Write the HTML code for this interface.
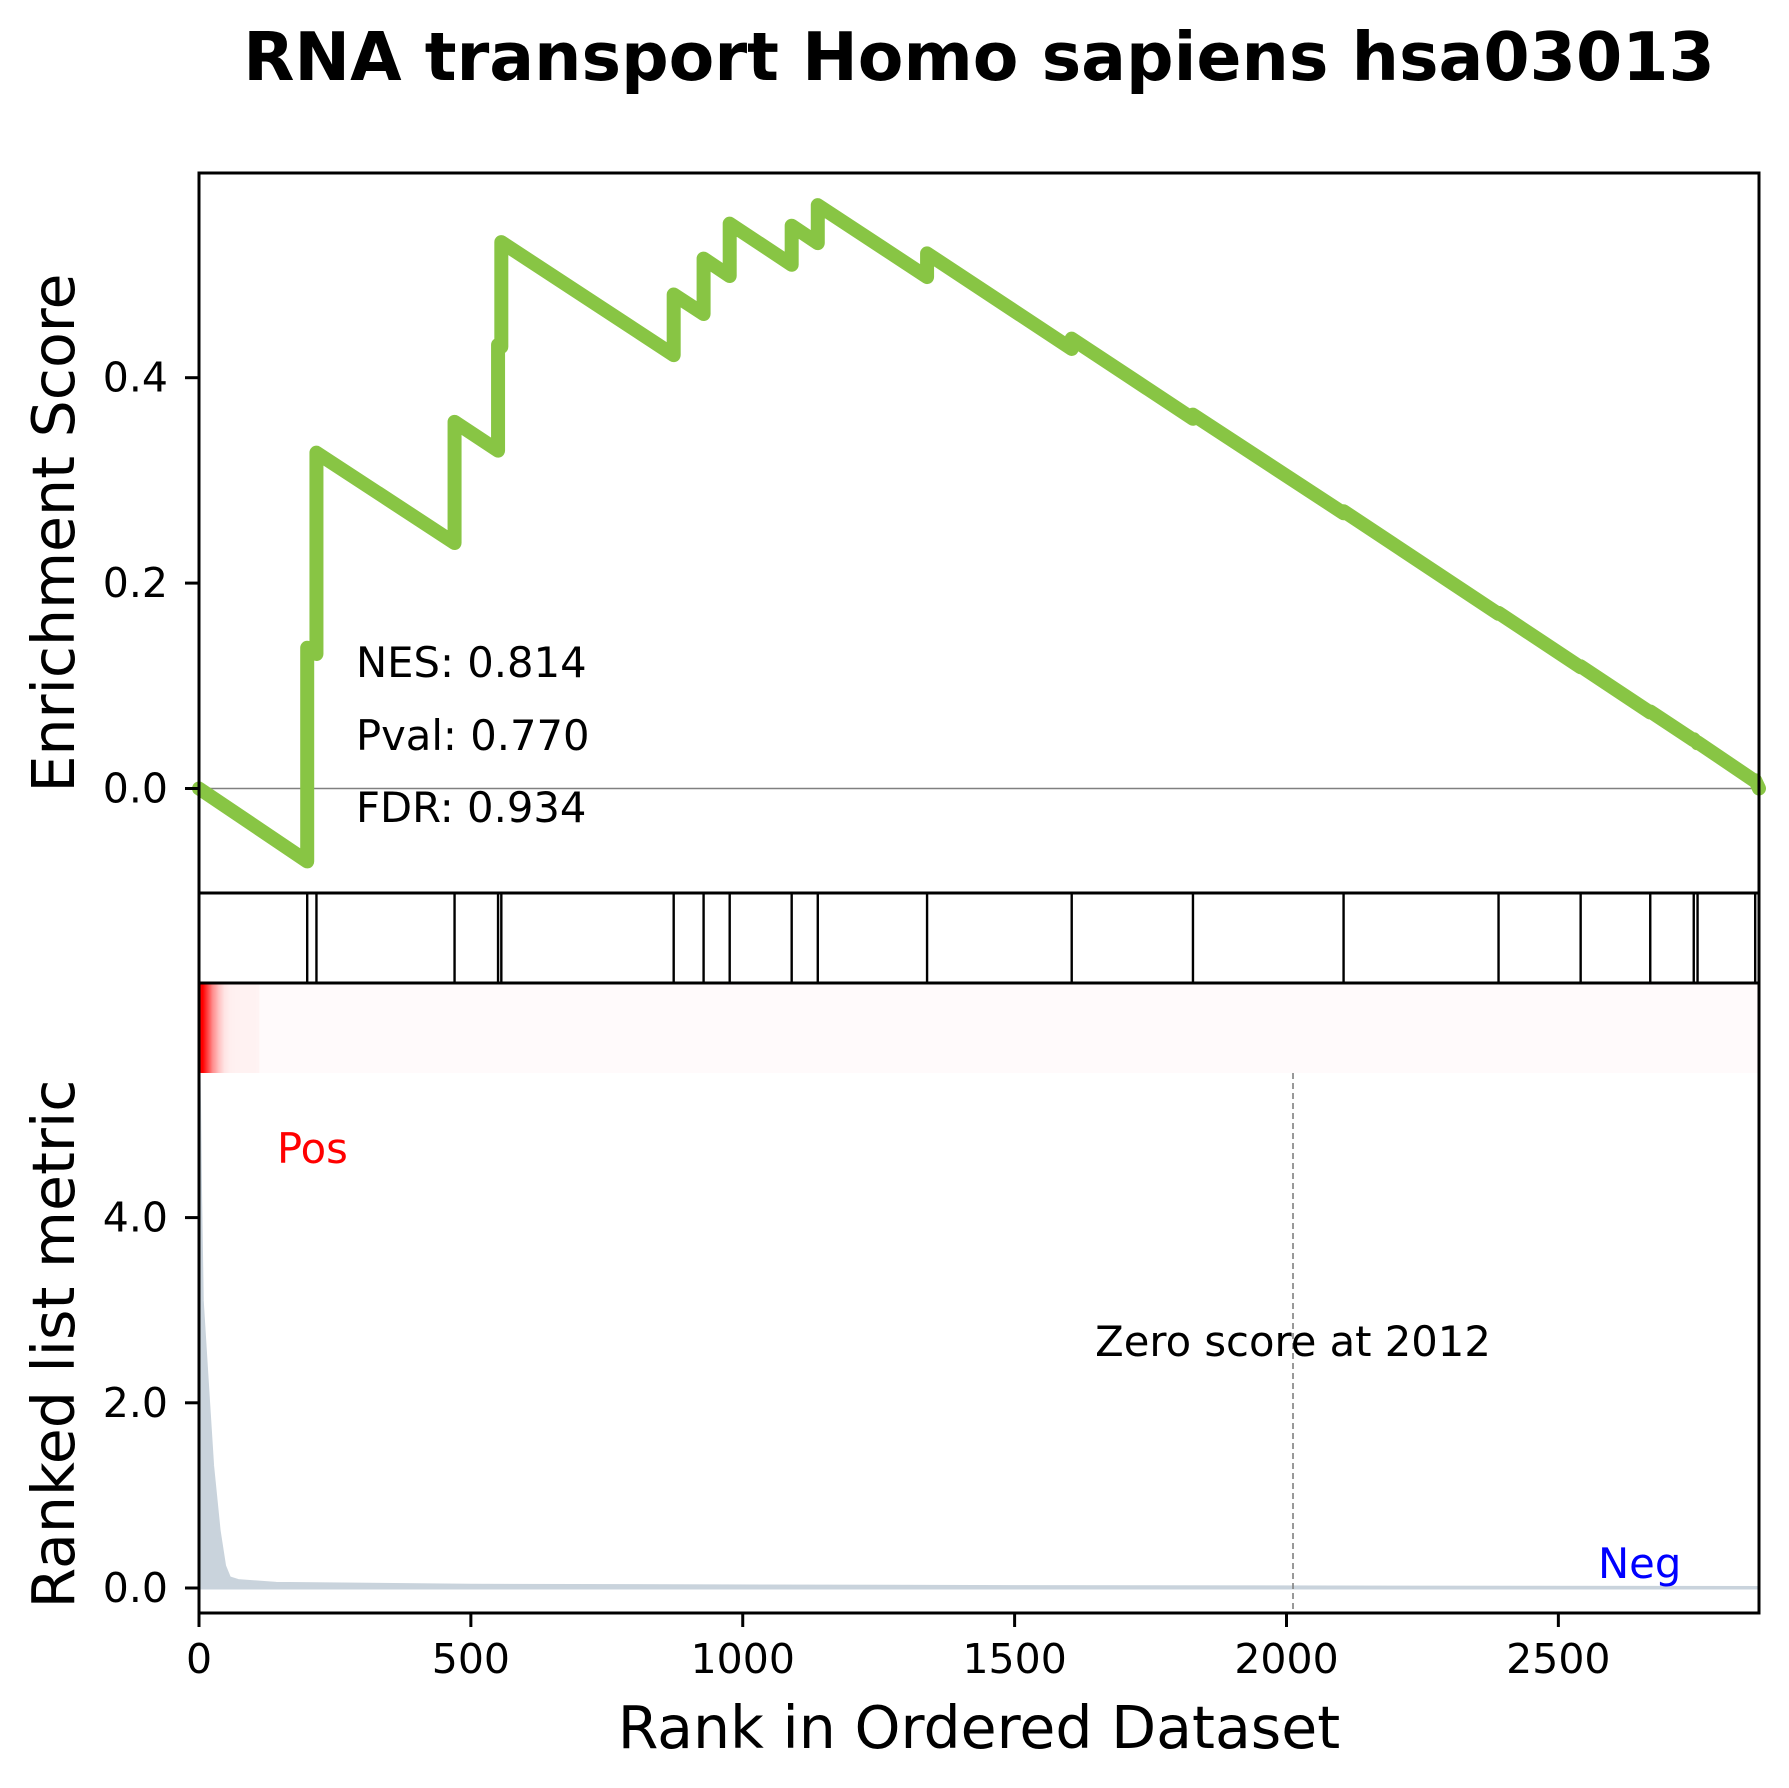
<!DOCTYPE html>
<html><head><meta charset="utf-8"><style>
html,body{margin:0;padding:0;background:#fff;}
svg{display:block;font-family:"DejaVu Sans","Liberation Sans",sans-serif;}
</style></head><body>
<svg id="chart" width="1789" height="1788" viewBox="0 0 1789 1788" xmlns="http://www.w3.org/2000/svg">
<text x="979" y="80" text-anchor="middle" font-size="66.5" font-weight="bold">RNA transport Homo sapiens hsa03013</text>
<g id="es"></g><g id="hits"></g><g id="heat"></g><g id="rank"></g><g id="axes"></g>
</svg>
<script>
const N = 2869;
const hitRanks = [199,216,470,550,556,873,928,976,1090,1138,1339,1605,1828,2105,2390,2541,2669,2749,2756,2862];
const esBefore = [-0.071,0.131,0.239,0.329,0.430,0.422,0.462,0.499,0.510,0.531,0.498,0.428,0.360,0.268,0.170,0.118,0.074,0.047,0.044,0.007];
const esAfter  = [0.137,0.327,0.357,0.432,0.532,0.481,0.516,0.550,0.548,0.568,0.521,0.438,0.364,0.270,0.171,0.119,0.075,0.048,0.045,0.008];
const esStart = 0.0, esEnd = 0.0;
const esTicks = [0.0,0.2,0.4];
const metricRanks = [0,1,3,6,15,25,37,47,56,72,142,500,1500,2869];
const metricValues = [5.6,5.2,4.2,3.1,2.25,1.32,0.62,0.24,0.11,0.08,0.05,0.03,0.015,0.005];
const metricTicks = [0.0,2.0,4.0];
const xTicks = [0,500,1000,1500,2000,2500];
const zeroScoreRank = 2012;

const NS='http://www.w3.org/2000/svg';
const L=199,R=1759;
const x=r=>L+(R-L)*r/N;
const yES=v=>788.5-v*1027;
const yM=v=>1588-v*92.6;
function mk(tag,attrs,parent){const e=document.createElementNS(NS,tag);for(const k in attrs)e.setAttribute(k,attrs[k]);document.getElementById(parent).appendChild(e);return e;}

let pts=[[x(0),yES(esStart)]];
hitRanks.forEach((h,i)=>{pts.push([x(h),yES(esBefore[i])]);pts.push([x(h),yES(esAfter[i])]);});
pts.push([x(N),yES(esEnd)]);
mk('line',{x1:L,x2:R,y1:yES(0),y2:yES(0),stroke:'#808080','stroke-width':1.6},'es');
const esLine=mk('polyline',{points:pts.map(p=>p.join(',')).join(' '),fill:'none',stroke:'#88C544','stroke-width':14,'stroke-linejoin':'round','stroke-linecap':'round'},'es');



hitRanks.forEach(h=>{
 const b=mk('line',{x1:x(h),x2:x(h),y1:893,y2:983,stroke:'#000','stroke-width':2.4},'hits');
 
 
});

function metricAt(r){for(let i=1;i<metricRanks.length;i++){if(r<=metricRanks[i]){const t=(r-metricRanks[i-1])/(metricRanks[i]-metricRanks[i-1]);return metricValues[i-1]+t*(metricValues[i]-metricValues[i-1]);}}return metricValues[metricValues.length-1];}
const hb=mk('rect',{x:L,y:983,width:R-L,height:90,fill:'#fffafb'},'heat');


for(let r=0;r<110;r+=2){
 const v=metricAt(r+1);const t=Math.min(1,v/3.0);
 const g=Math.round(248*(1-t)),bb=Math.round(248*(1-t));
 const c=mk('rect',{x:x(r),y:983,width:x(r+2)-x(r)+0.5,height:90,fill:`rgb(255,${g},${bb})`},'heat');
 
 
}

let ap=`M${x(0)},${yM(0)}`;
metricRanks.forEach((r,i)=>{ap+=` L${x(r)},${yM(metricValues[i])}`;});
ap+=` L${x(N)},${yM(0)} Z`;
const area=mk('path',{d:ap,fill:'#c9d3dc',stroke:'#c9d3dc','stroke-width':3},'rank');


const zl=mk('line',{x1:x(zeroScoreRank),x2:x(zeroScoreRank),y1:1073,y2:1613,stroke:'#808080','stroke-width':1.6,'stroke-dasharray':'6,4'},'rank');



function txt(s,a,name){const t=mk('text',a,'axes');t.textContent=s;return t;}
[[173,893],[893,983],[983,1613]].forEach(([t,b],i)=>{
 const r=mk('rect',{x:L,y:t,width:R-L,height:b-t,fill:'none',stroke:'#000','stroke-width':3},'axes');
 
 
});
esTicks.forEach(v=>{mk('line',{x1:L-14,x2:L,y1:yES(v),y2:yES(v),stroke:'#000','stroke-width':3},'axes');
 txt(v.toFixed(1),{x:168,y:yES(v)+14,'text-anchor':'end','font-size':41},'es-tick-label');});
metricTicks.forEach(v=>{mk('line',{x1:L-14,x2:L,y1:yM(v),y2:yM(v),stroke:'#000','stroke-width':3},'axes');
 txt(v.toFixed(1),{x:168,y:yM(v)+14,'text-anchor':'end','font-size':41},'metric-tick-label');});
xTicks.forEach(v=>{mk('line',{x1:x(v),x2:x(v),y1:1613,y2:1627,stroke:'#000','stroke-width':3},'axes');
 txt(String(v),{x:x(v),y:1673,'text-anchor':'middle','font-size':41},'x-tick-label');});
txt('Rank in Ordered Dataset',{x:979,y:1748,'text-anchor':'middle','font-size':58.5},'x-axis-title');
txt('Enrichment Score',{x:74,y:533,'text-anchor':'middle','font-size':58.5,transform:'rotate(-90 74 533)'},'es-axis-title');
txt('Ranked list metric',{x:74,y:1344,'text-anchor':'middle','font-size':58.5,transform:'rotate(-90 74 1344)'},'metric-axis-title');
txt('NES: 0.814',{x:356,y:677,'font-size':41.7},'nes-label');
txt('Pval: 0.770',{x:356,y:750,'font-size':41.7},'pval-label');
txt('FDR: 0.934',{x:356,y:822,'font-size':41.7},'fdr-label');
txt('Pos',{x:277,y:1163,'font-size':41.7,fill:'#ff0000'},'pos-label');
txt('Neg',{x:1598,y:1578,'font-size':41.7,fill:'#0000ff'},'neg-label');
txt('Zero score at '+zeroScoreRank,{x:x(zeroScoreRank),y:1356,'text-anchor':'middle','font-size':41.7},'zero-score-label');
</script>
</body></html>
